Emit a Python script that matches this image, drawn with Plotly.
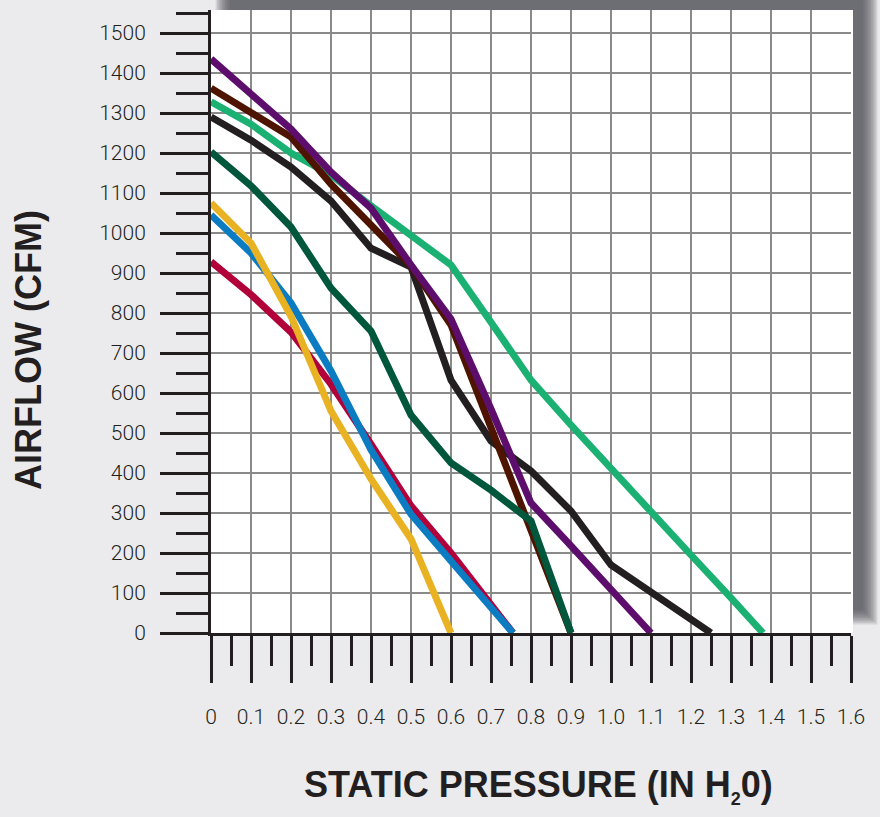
import plotly.graph_objects as go

# fan curves: static pressure (in H2O) vs airflow (CFM)
crimson_x = [0, 0.1, 0.2, 0.3, 0.4, 0.5, 0.6, 0.755]
crimson_y = [928, 846, 752, 622, 472, 318, 200, 0]

blue_x = [0, 0.1, 0.2, 0.3, 0.4, 0.5, 0.6, 0.755]
blue_y = [1045, 950, 825, 655, 458, 297, 180, 0]

yellow_x = [0, 0.1, 0.2, 0.3, 0.4, 0.5, 0.6]
yellow_y = [1075, 975, 792, 555, 385, 235, 0]

black_x = [0, 0.1, 0.2, 0.3, 0.4, 0.5, 0.6, 0.7, 0.8, 0.9, 1.0, 1.1, 1.25]
black_y = [1290, 1232, 1165, 1080, 962, 915, 632, 480, 405, 305, 170, 103, 0]

green_x = [0, 0.1, 0.2, 0.3, 0.4, 0.5, 0.6, 0.7, 0.8, 0.9, 1.0, 1.1, 1.2, 1.3, 1.38]
green_y = [1328, 1272, 1200, 1145, 1068, 995, 920, 777, 632, 520, 410, 302, 195, 88, 0]

brown_x = [0, 0.1, 0.2, 0.3, 0.4, 0.5, 0.6, 0.7, 0.8, 0.9]
brown_y = [1362, 1302, 1240, 1122, 1020, 918, 770, 510, 255, 0]

dkgreen_x = [0, 0.1, 0.2, 0.3, 0.4, 0.5, 0.6, 0.7, 0.8, 0.9]
dkgreen_y = [1203, 1118, 1015, 862, 755, 545, 425, 357, 280, 0]

purple_x = [0, 0.1, 0.2, 0.3, 0.4, 0.5, 0.6, 0.7, 0.8, 0.9, 1.0, 1.1]
purple_y = [1435, 1345, 1260, 1152, 1062, 920, 785, 560, 325, 218, 108, 0]

x_ticks = [0, 0.1, 0.2, 0.3, 0.4, 0.5, 0.6, 0.7, 0.8, 0.9, 1.0, 1.1, 1.2, 1.3, 1.4, 1.5, 1.6]
x_labels = ['0', '0.1', '0.2', '0.3', '0.4', '0.5', '0.6', '0.7', '0.8', '0.9',
            '1.0', '1.1', '1.2', '1.3', '1.4', '1.5', '1.6']
y_ticks = list(range(0, 1600, 100))

series = [
    (crimson_x, crimson_y, '#b1003a'),
    (blue_x, blue_y, '#0b7bc2'),
    (yellow_x, yellow_y, '#e8b222'),
    (black_x, black_y, '#231f20'),
    (green_x, green_y, '#1ab173'),
    (brown_x, brown_y, '#4e1400'),
    (dkgreen_x, dkgreen_y, '#00573b'),
    (purple_x, purple_y, '#5d0d6b'),
]

traces = [go.Scatter(x=xs, y=ys, mode='lines', line=dict(color=c, width=7),
                     hoverinfo='x+y', showlegend=False)
          for xs, ys, c in series]

# plot area in pixels: x 211..851, y 10..633
L, R, T, B = 211, 851, 10, 633
W, H = R - L, B - T


def px(x):
    return (x - L) / W


def py(y):
    return (B - y) / H


shapes = []
# fake blurred drop shadow (offset up and right)
for i in range(10):
    e = 1.6 * i
    shapes.append(dict(type='rect', xref='paper', yref='paper', layer='below',
                       x0=px(230 - e), x1=px(863 + e), y0=py(610 + e), y1=py(-8 - e),
                       fillcolor='rgba(78,79,84,0.15)', line=dict(width=0)))
shapes.append(dict(type='rect', xref='paper', yref='paper', layer='below',
                   x0=0, x1=px(853), y0=0, y1=1,
                   fillcolor='white', line=dict(width=0)))

tick_font = dict(family='Roboto, Liberation Sans, sans-serif',
                 size=21, color='#231f20', weight=300)
title_font = dict(family='Liberation Sans, Arial, Helvetica, sans-serif',
                  size=36, color='#231f20', weight='bold')

layout = go.Layout(
    width=880, height=817,
    margin=dict(l=L, r=880 - R, t=T, b=817 - B),
    paper_bgcolor='#ebebed',
    plot_bgcolor='rgba(0,0,0,0)',
    shapes=shapes,
    xaxis=dict(range=[0, 1.6], tickvals=x_ticks, ticktext=x_labels,
               showgrid=True, gridcolor='#8a8a8a', gridwidth=2, zeroline=False,
               showline=True, linecolor='#231f20', linewidth=3,
               ticks='outside', ticklen=47, tickwidth=3, tickcolor='#231f20',
               ticklabelstandoff=16, tickfont=tick_font,
               minor=dict(dtick=0.05, ticks='outside', ticklen=30, tickwidth=3,
                          tickcolor='#231f20', showgrid=False)),
    yaxis=dict(range=[0, (B - T) / 0.4], tickvals=y_ticks,
               showgrid=True, gridcolor='#8a8a8a', gridwidth=2, zeroline=False,
               showline=True, linecolor='#231f20', linewidth=3,
               ticks='outside', ticklen=48, tickwidth=3, tickcolor='#231f20',
               ticklabelstandoff=10, tickfont=tick_font,
               minor=dict(dtick=50, ticks='outside', ticklen=32, tickwidth=3,
                          tickcolor='#231f20', showgrid=False)),
    annotations=[
        dict(text='AIRFLOW (CFM)', xref='paper', yref='paper', x=px(29), y=py(350),
             textangle=-90, showarrow=False, xanchor='center', yanchor='middle',
             font=title_font),
        dict(text='STATIC PRESSURE (IN H<sub><span style="font-size:18px">2</span></sub>0)',
             xref='paper', yref='paper',
             x=px(538), y=py(786), showarrow=False, xanchor='center', yanchor='middle',
             font=title_font),
    ],
)

fig = go.Figure(data=traces, layout=layout)
# drop the browser's default 8px page margin so the figure sits at 0,0
fig.write_html('out.html', config={'displayModeBar': False},
               post_script="document.body.style.margin='0';")
